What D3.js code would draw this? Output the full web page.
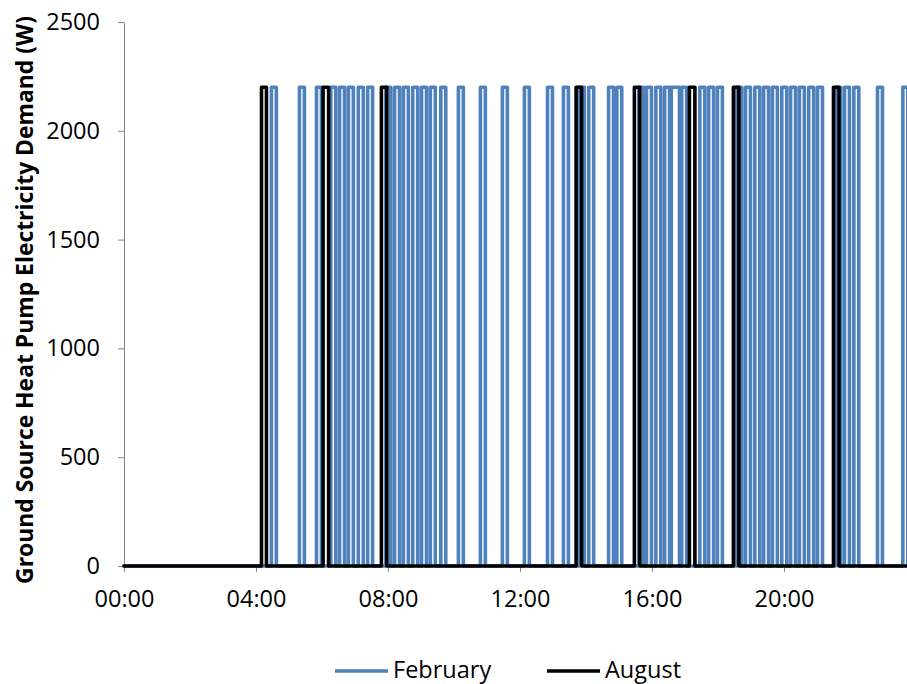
<!DOCTYPE html>
<html><head><meta charset="utf-8">
<script src="https://cdn.jsdelivr.net/npm/d3@7"></script>
<style>
body{margin:0;background:#fff}
svg{display:block}
text{font-family:"Open Sans",sans-serif}
</style>
</head><body>
<svg id="c" width="907" height="684"></svg>
<script>
// ---- data ----
const seriesNames = ["February", "August"];
const seriesColors = ["#4F81BD", "#000000"];
const pulseLevel = 2200; // W when the heat pump is on
const februaryPulses = [
  ["04:28","04:37"],["05:19","05:28"],["05:50","05:59"],["06:16","06:25"],["06:32","06:41"],
  ["06:48","06:57"],["07:06","07:15"],["07:23","07:32"],["07:56","08:05"],["08:12","08:21"],
  ["08:28","08:37"],["08:45","08:54"],["09:01","09:10"],["09:17","09:26"],["09:36","09:45"],
  ["10:08","10:17"],["10:48","10:57"],["11:28","11:37"],["12:08","12:17"],["12:50","12:59"],
  ["13:19","13:28"],["13:48","13:57"],["14:05","14:14"],["14:41","14:50"],["14:56","15:05"],
  ["15:36","15:45"],["15:50","15:59"],["16:07","16:16"],["16:23","16:32"],["16:35","16:50"],
  ["16:54","17:03"],["17:27","17:36"],["17:43","17:52"],["17:59","18:08"],["18:34","18:43"],
  ["18:50","18:59"],["19:07","19:16"],["19:23","19:32"],["19:39","19:48"],["19:56","20:05"],
  ["20:12","20:21"],["20:28","20:37"],["20:45","20:54"],["21:01","21:10"],["21:34","21:43"],
  ["21:50","21:59"],["22:07","22:16"],["22:50","22:59"],["23:36","23:45"]
];
const augustPulses = [
  ["04:10","04:19"],["06:02","06:12"],["07:48","07:58"],["13:42","13:52"],
  ["15:28","15:38"],["17:08","17:18"],["18:28","18:38"],["21:30","21:40"]
];
const yTicks = [0, 500, 1000, 1500, 2000, 2500];
const xTickLabels = ["00:00", "04:00", "08:00", "12:00", "16:00", "20:00"];
const yTitle = "Ground Source Heat Pump Electricity Demand (W)";

// ---- helpers ----
const toMin = s => { const [h, m] = s.split(":").map(Number); return h * 60 + m; };
function stepPoints(pulses) {
  const pts = [[0, 0]];
  pulses.forEach(([a, b]) => {
    const s = toMin(a), e = toMin(b);
    pts.push([s, 0], [s, pulseLevel], [e, pulseLevel], [e, 0]);
  });
  pts.push([1440, 0]);
  return pts;
}

const svg = d3.select("#c");
const x = d3.scaleLinear().domain([0, 1440]).range([124, 916]);
const y = d3.scaleLinear().domain([0, 2500]).range([566, 22]);
const axisColor = "#868686";
const fs = 23.5;

// y axis
const gy = svg.append("g").attr("transform", "translate(124,0)")
  .call(d3.axisLeft(y).tickValues(yTicks).tickFormat(d3.format("d"))
    .tickSize(6).tickPadding(18).tickSizeOuter(0));
gy.select(".domain").attr("stroke", axisColor);
gy.selectAll(".tick line").attr("stroke", axisColor);
gy.selectAll(".tick text").attr("font-size", fs).attr("fill", "#000")
  .attr("font-family", "Open Sans");

// x axis
const gx = svg.append("g").attr("transform", "translate(0,566)")
  .call(d3.axisBottom(x).tickValues(xTickLabels.map(toMin)).tickFormat((d, i) => xTickLabels[i])
    .tickSize(6).tickPadding(18).tickSizeOuter(0));
gx.select(".domain").attr("stroke", axisColor);
gx.selectAll(".tick line").attr("stroke", axisColor);
gx.selectAll(".tick text").attr("font-size", fs).attr("fill", "#000")
  .attr("font-family", "Open Sans");

// series
const line = d3.line().x(d => x(d[0])).y(d => y(d[1]));
[februaryPulses, augustPulses].forEach((p, i) => {
  svg.append("path").datum(stepPoints(p))
    .attr("d", line).attr("fill", "none")
    .attr("stroke", seriesColors[i]).attr("stroke-width", 3.6)
    .attr("stroke-linejoin", "round").attr("stroke-linecap", "round");
});

// y title
const t = svg.append("text").text(yTitle)
  .attr("transform", "translate(33,300) rotate(-90)")
  .attr("text-anchor", "middle").attr("font-weight", "bold")
  .attr("font-size", 20).attr("fill", "#000");
const len = t.node().getComputedTextLength();
t.attr("font-size", 20 * 568 / len);

// legend
const legendX = [335, 547];
seriesNames.forEach((n, i) => {
  svg.append("line").attr("x1", legendX[i]).attr("x2", legendX[i] + 53)
    .attr("y1", 671).attr("y2", 671)
    .attr("stroke", seriesColors[i]).attr("stroke-width", 3.6);
  svg.append("text").attr("x", legendX[i] + 58).attr("y", 678)
    .attr("font-size", fs).attr("fill", "#000").text(n);
});
</script>
</body></html>
